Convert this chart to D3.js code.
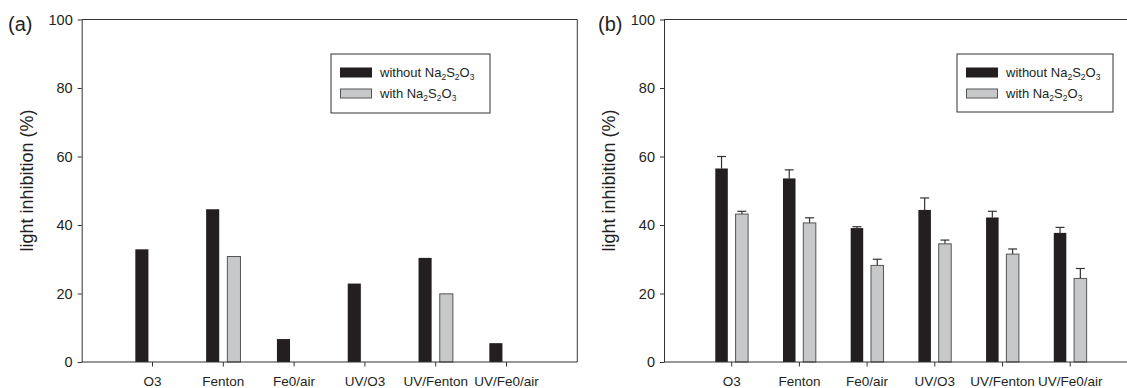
<!DOCTYPE html>
<html>
<head>
<meta charset="utf-8">
<script src="https://cdn.jsdelivr.net/npm/d3@7"></script>
<style>
  body { margin: 0; background: #fff; }
  svg { display: block; font-family: 'Liberation Sans', Arial, sans-serif; }
</style>
</head>
<body>
<div id="chart"></div>
<script>
// categories and values
const categories = ['O3', 'Fenton', 'Fe0/air', 'UV/O3', 'UV/Fenton', 'UV/Fe0/air']
const yTicks = [0, 20, 40, 60, 80, 100]

// panel (a), no error bars, missing grey bars are null
const withoutA = [32.9, 44.6, 6.7, 22.9, 30.4, 5.5]
const withA = [null, 30.8, null, null, 19.9, null]

// panel (b), one-sided error bars
const withoutB = [56.5, 53.6, 39.1, 44.4, 42.2, 37.7]
const withB = [43.2, 40.6, 28.2, 34.5, 31.5, 24.4]
const withoutBErr = [3.5, 2.5, 0.4, 3.5, 1.8, 1.6]
const withBErr = [0.8, 1.5, 1.8, 1.1, 1.5, 2.9]

const ink = '#231f20'
const darkFill = '#231f20'
const greyFill = '#c7c8c9'
const greyStroke = '#555'

const svg = d3.select('#chart').append('svg')
  .attr('width', 1127)
  .attr('height', 388)

function drawPanel (opt) {
  const g = svg.append('g')
  const step = opt.step
  const x0 = opt.x0
  const x1 = x0 + step * 7

  const x = d3.scaleBand()
    .domain(categories)
    .range([x0 + step * 0.5, x0 + step * 6.5])
    .paddingInner(0)

  const y = d3.scaleLinear()
    .domain([0, 100])
    .range([362, 19.5])

  const barW = step * 0.185
  const off = step * 0.15
  const cx = (c) => x(c) + x.bandwidth() / 2

  // frame top and right
  g.append('line')
    .attr('x1', x0).attr('x2', x1)
    .attr('y1', y(100)).attr('y2', y(100))
    .attr('stroke', '#333').attr('stroke-width', 1)
  g.append('line')
    .attr('x1', x1).attr('x2', x1)
    .attr('y1', y(100)).attr('y2', y(0))
    .attr('stroke', '#333').attr('stroke-width', 1)

  const rowsDark = categories.map((c, i) => ({ c, v: opt.dark[i], e: opt.darkErr ? opt.darkErr[i] : null }))
  const rowsGrey = categories.map((c, i) => ({ c, v: opt.grey[i], e: opt.greyErr ? opt.greyErr[i] : null }))
    .filter(d => d.v !== null)

  // error bars (drawn first so the bar covers the lower part)
  const errs = rowsDark.map(d => ({ ...d, xc: cx(d.c) - off }))
    .concat(rowsGrey.map(d => ({ ...d, xc: cx(d.c) + off })))
    .filter(d => d.e !== null)
  g.selectAll('.err-v').data(errs).enter().append('line')
    .attr('x1', d => d.xc).attr('x2', d => d.xc)
    .attr('y1', d => y(d.v)).attr('y2', d => y(d.v + d.e))
    .attr('stroke', '#333').attr('stroke-width', 1.2)
  g.selectAll('.err-h').data(errs).enter().append('line')
    .attr('x1', d => d.xc - 4.5).attr('x2', d => d.xc + 4.5)
    .attr('y1', d => y(d.v + d.e)).attr('y2', d => y(d.v + d.e))
    .attr('stroke', '#333').attr('stroke-width', 1.2)

  // bars without / with Na2S2O3
  g.selectAll('.bar-dark').data(rowsDark).enter().append('rect')
    .attr('x', d => cx(d.c) - off - barW / 2)
    .attr('y', d => y(d.v))
    .attr('width', barW)
    .attr('height', d => y(0) - y(d.v))
    .attr('fill', darkFill)

  g.selectAll('.bar-grey').data(rowsGrey).enter().append('rect')
    .attr('x', d => cx(d.c) + off - barW / 2)
    .attr('y', d => y(d.v))
    .attr('width', barW)
    .attr('height', d => y(0) - y(d.v))
    .attr('fill', greyFill)
    .attr('stroke', greyStroke)
    .attr('stroke-width', 1)

  // axes
  const xAxis = g.append('g')
    .attr('transform', `translate(0,${y(0)})`)
    .call(d3.axisBottom(x).tickSize(4.5).tickSizeOuter(0).tickPadding(10))
  xAxis.select('.domain').attr('d', `M${x0},0H${x1}`)
  xAxis.selectAll('text').style('font-size', '13.5px').attr('fill', ink)

  const yAxis = g.append('g')
    .attr('transform', `translate(${x0},0)`)
    .call(d3.axisLeft(y).tickValues(yTicks).tickSize(4).tickSizeOuter(0).tickPadding(5))
  yAxis.selectAll('text').style('font-size', '14.5px').attr('fill', ink)
  g.selectAll('.domain, .tick line').attr('stroke', '#333')

  // y title
  g.append('text')
    .attr('transform', `translate(${x0 - 49},${y(53)}) rotate(-90)`)
    .attr('text-anchor', 'middle')
    .attr('fill', ink)
    .style('font-size', '18px')
    .text('light inhibition (%)')

  // panel label
  g.append('text')
    .attr('x', opt.labelX).attr('y', 31)
    .attr('fill', ink)
    .style('font-size', '20px')
    .text(opt.label)

  // legend
  const L = opt.legend
  g.append('rect')
    .attr('x', L.x).attr('y', L.y)
    .attr('width', L.w).attr('height', L.h)
    .attr('fill', '#fff').attr('stroke', '#333').attr('stroke-width', 1)
  const items = [
    { pre: 'without Na', fill: darkFill, stroke: darkFill },
    { pre: 'with Na', fill: greyFill, stroke: greyStroke }
  ]
  items.forEach((it, i) => {
    const ry = L.y + 14 + i * 21
    g.append('rect')
      .attr('x', L.x + 9.5).attr('y', ry)
      .attr('width', 31).attr('height', 9)
      .attr('fill', it.fill).attr('stroke', it.stroke).attr('stroke-width', 1)
    const t = g.append('text')
      .attr('x', L.x + 49).attr('y', ry + 9)
      .attr('fill', ink)
      .style('font-size', '13px')
    t.append('tspan').text(it.pre)
    t.append('tspan').attr('dy', 3).style('font-size', '8.5px').text('2')
    t.append('tspan').attr('dy', -3).text('S')
    t.append('tspan').attr('dy', 3).style('font-size', '8.5px').text('2')
    t.append('tspan').attr('dy', -3).text('O')
    t.append('tspan').attr('dy', 3).style('font-size', '8.5px').text('3')
  })
}

drawPanel({
  x0: 81.7,
  step: 70.8,
  dark: withoutA,
  grey: withA,
  label: '(a)',
  labelX: 8,
  legend: { x: 331, y: 54, w: 159, h: 59 }
})

drawPanel({
  x0: 664,
  step: 67.7,
  dark: withoutB,
  grey: withB,
  darkErr: withoutBErr,
  greyErr: withBErr,
  label: '(b)',
  labelX: 598,
  legend: { x: 957, y: 54, w: 156, h: 58 }
})
</script>
</body>
</html>
